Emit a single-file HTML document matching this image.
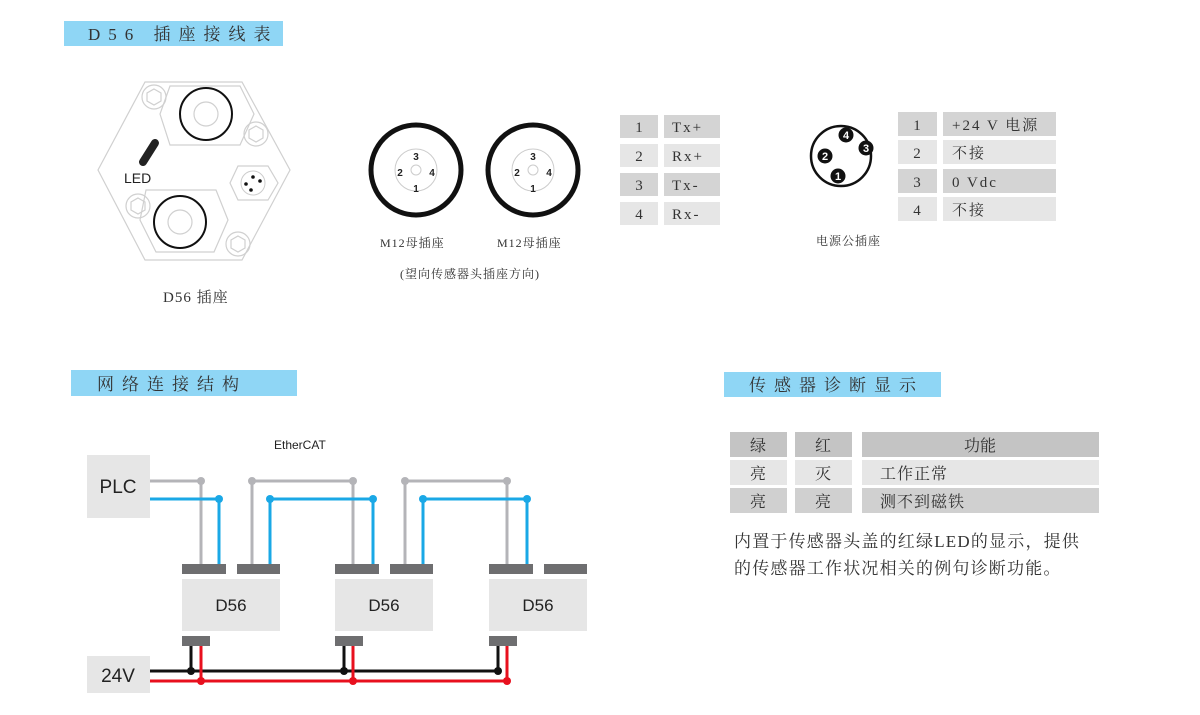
<!DOCTYPE html>
<html><head><meta charset="utf-8"><style>
html,body{margin:0;padding:0;background:#fff;}
svg{display:block;}
.t{font-family:"Liberation Serif","Noto Serif CJK SC",serif;fill:#333;}
.s{font-family:"Liberation Sans","Noto Sans CJK SC",sans-serif;fill:#222;}
</style></head><body>
<svg width="1200" height="715" viewBox="0 0 1200 715" xmlns="http://www.w3.org/2000/svg">
<!-- titles -->
<rect x="64" y="21" width="219" height="25" fill="#8fd6f5"/>
<text x="88" y="40" class="t" font-size="17" letter-spacing="8">D56 插座接线表</text>
<rect x="71" y="370" width="226" height="26" fill="#8fd6f5"/>
<text x="97" y="390" class="t" font-size="17" letter-spacing="8">网络连接结构</text>
<rect x="724" y="372" width="217" height="25" fill="#8fd6f5"/>
<text x="749" y="391" class="t" font-size="17" letter-spacing="8">传感器诊断显示</text>

<!-- hexagon D56 -->
<g fill="none" stroke="#d0d0d0" stroke-width="1.2">
<polygon points="145,82 242,82 290,170 242,260 145,260 98,170"/>
<circle cx="154" cy="97" r="12"/><polygon points="154,89 161,93 161,101 154,105 147,101 147,93"/>
<circle cx="256" cy="134" r="12"/><polygon points="256,126 263,130 263,138 256,142 249,138 249,130"/>
<circle cx="138" cy="206" r="12"/><polygon points="138,198 145,202 145,210 138,214 131,210 131,202"/>
<circle cx="238" cy="244" r="12"/><polygon points="238,236 245,240 245,248 238,252 231,248 231,240"/>
<polygon points="170,86 240,86 254,114 240,145 170,145 160,114"/>
<polygon points="146,190 216,190 228,220 214,252 156,252 140,220"/>
<polygon points="238,166 268,166 278,183 268,200 238,200 230,183"/>
<circle cx="206" cy="114" r="12"/><circle cx="180" cy="222" r="12"/>
</g>
<circle cx="206" cy="114" r="26" fill="none" stroke="#111" stroke-width="2"/>
<circle cx="180" cy="222" r="26" fill="none" stroke="#111" stroke-width="2"/>
<circle cx="253" cy="183" r="12" fill="none" stroke="#ccc"/>
<circle cx="253" cy="177" r="1.8" fill="#111"/><circle cx="260" cy="181" r="1.8" fill="#111"/><circle cx="246" cy="184" r="1.8" fill="#111"/><circle cx="251" cy="190" r="1.8" fill="#111"/>
<line x1="155" y1="143" x2="143" y2="162" stroke="#222" stroke-width="8" stroke-linecap="round"/>
<text x="124" y="183" class="s" font-size="14">LED</text>
<text x="163" y="302" class="t" font-size="15" letter-spacing="1">D56 插座</text>

<!-- M12 -->
<g>
<circle cx="416" cy="170" r="45" fill="none" stroke="#111" stroke-width="5"/>
<circle cx="416" cy="170" r="21" fill="none" stroke="#ccc"/>
<circle cx="416" cy="170" r="5" fill="none" stroke="#ccc"/>
<text x="416" y="160" class="s" font-size="10" font-weight="bold" text-anchor="middle">3</text>
<text x="416" y="192" class="s" font-size="10" font-weight="bold" text-anchor="middle">1</text>
<text x="400" y="176" class="s" font-size="10" font-weight="bold" text-anchor="middle">2</text>
<text x="432" y="176" class="s" font-size="10" font-weight="bold" text-anchor="middle">4</text>
<circle cx="533" cy="170" r="45" fill="none" stroke="#111" stroke-width="5"/>
<circle cx="533" cy="170" r="21" fill="none" stroke="#ccc"/>
<circle cx="533" cy="170" r="5" fill="none" stroke="#ccc"/>
<text x="533" y="160" class="s" font-size="10" font-weight="bold" text-anchor="middle">3</text>
<text x="533" y="192" class="s" font-size="10" font-weight="bold" text-anchor="middle">1</text>
<text x="517" y="176" class="s" font-size="10" font-weight="bold" text-anchor="middle">2</text>
<text x="549" y="176" class="s" font-size="10" font-weight="bold" text-anchor="middle">4</text>
</g>
<text x="380" y="247" class="t" font-size="12" letter-spacing="1">M12母插座</text>
<text x="497" y="247" class="t" font-size="12" letter-spacing="1">M12母插座</text>
<text x="400" y="278" class="t" font-size="12" letter-spacing="1">(望向传感器头插座方向)</text>

<!-- Ethernet table -->
<g>
<rect x="620" y="115" width="38" height="23" fill="#d4d4d4"/><rect x="664" y="115" width="56" height="23" fill="#d4d4d4"/>
<rect x="620" y="144" width="38" height="23" fill="#e6e6e6"/><rect x="664" y="144" width="56" height="23" fill="#e6e6e6"/>
<rect x="620" y="173" width="38" height="23" fill="#d4d4d4"/><rect x="664" y="173" width="56" height="23" fill="#d4d4d4"/>
<rect x="620" y="202" width="38" height="23" fill="#e6e6e6"/><rect x="664" y="202" width="56" height="23" fill="#e6e6e6"/>
<g class="t" font-size="15" text-anchor="middle">
<text x="639" y="132">1</text><text x="639" y="161">2</text><text x="639" y="190">3</text><text x="639" y="219">4</text>
</g>
<g class="t" font-size="15" letter-spacing="2">
<text x="672" y="132">Tx+</text><text x="672" y="161">Rx+</text><text x="672" y="190">Tx-</text><text x="672" y="219">Rx-</text>
</g>
</g>

<!-- power connector -->
<circle cx="841" cy="156" r="30" fill="none" stroke="#111" stroke-width="2.5"/>
<g class="s" font-size="11" font-weight="bold" text-anchor="middle">
<circle cx="846" cy="135" r="7.5" fill="#111"/><text x="846" y="139" fill="#fff">4</text>
<circle cx="866" cy="148" r="7.5" fill="#111"/><text x="866" y="152" fill="#fff">3</text>
<circle cx="825" cy="156" r="7.5" fill="#111"/><text x="825" y="160" fill="#fff">2</text>
<circle cx="838" cy="176" r="7.5" fill="#111"/><text x="838" y="180" fill="#fff">1</text>
</g>
<text x="816" y="245" class="t" font-size="12" letter-spacing="1">电源公插座</text>
<g>
<rect x="898" y="112" width="39" height="24" fill="#d4d4d4"/><rect x="943" y="112" width="113" height="24" fill="#d4d4d4"/>
<rect x="898" y="140" width="39" height="24" fill="#e6e6e6"/><rect x="943" y="140" width="113" height="24" fill="#e6e6e6"/>
<rect x="898" y="169" width="39" height="24" fill="#d4d4d4"/><rect x="943" y="169" width="113" height="24" fill="#d4d4d4"/>
<rect x="898" y="197" width="39" height="24" fill="#e6e6e6"/><rect x="943" y="197" width="113" height="24" fill="#e6e6e6"/>
<g class="t" font-size="15" text-anchor="middle">
<text x="917" y="130">1</text><text x="917" y="158">2</text><text x="917" y="187">3</text><text x="917" y="215">4</text>
</g>
<g class="t" font-size="15" letter-spacing="2">
<text x="952" y="130">+24 V 电源</text><text x="952" y="158">不接</text><text x="952" y="187">0 Vdc</text><text x="952" y="215">不接</text>
</g>
</g>

<!-- diagnostic table -->
<rect x="730" y="432" width="57" height="25" fill="#c4c4c4"/><rect x="795" y="432" width="57" height="25" fill="#c4c4c4"/><rect x="862" y="432" width="237" height="25" fill="#c4c4c4"/>
<rect x="730" y="460" width="57" height="25" fill="#e6e6e6"/><rect x="795" y="460" width="57" height="25" fill="#e6e6e6"/><rect x="862" y="460" width="237" height="25" fill="#e6e6e6"/>
<rect x="730" y="488" width="57" height="25" fill="#d0d0d0"/><rect x="795" y="488" width="57" height="25" fill="#d0d0d0"/><rect x="862" y="488" width="237" height="25" fill="#d0d0d0"/>
<g class="t" font-size="16" text-anchor="middle">
<text x="758" y="451">绿</text><text x="823" y="451">红</text><text x="980" y="451">功能</text>
<text x="758" y="479">亮</text><text x="823" y="479">灭</text>
<text x="758" y="507">亮</text><text x="823" y="507">亮</text>
</g>
<g class="t" font-size="16" letter-spacing="1">
<text x="880" y="479">工作正常</text><text x="880" y="507">测不到磁铁</text>
</g>
<text x="734" y="547" class="t" font-size="17" letter-spacing="1.2">内置于传感器头盖的红绿LED的显示，提供</text>
<text x="734" y="574" class="t" font-size="17" letter-spacing="1.2">的传感器工作状况相关的例句诊断功能。</text>

<!-- network -->
<text x="274" y="449" class="s" font-size="12">EtherCAT</text>
<rect x="87" y="455" width="63" height="63" fill="#e6e6e6"/>
<text x="118" y="493" class="s" font-size="19" text-anchor="middle" fill="#333">PLC</text>
<rect x="87" y="656" width="63" height="37" fill="#e6e6e6"/>
<text x="118" y="682" class="s" font-size="19" text-anchor="middle" fill="#333">24V</text>
<g fill="none" stroke-width="3">
<polyline points="150,481 201,481 201,564" stroke="#b4b4b8"/>
<polyline points="150,499 219,499 219,564" stroke="#1aa8e6"/>
<polyline points="252,564 252,481 353,481 353,564" stroke="#b4b4b8"/>
<polyline points="270,564 270,499 373,499 373,564" stroke="#1aa8e6"/>
<polyline points="405,564 405,481 507,481 507,564" stroke="#b4b4b8"/>
<polyline points="423,564 423,499 527,499 527,564" stroke="#1aa8e6"/>
</g>
<g fill="#b4b4b8"><circle cx="201" cy="481" r="4"/><circle cx="252" cy="481" r="4"/><circle cx="353" cy="481" r="4"/><circle cx="405" cy="481" r="4"/><circle cx="507" cy="481" r="4"/></g>
<g fill="#1aa8e6"><circle cx="219" cy="499" r="4"/><circle cx="270" cy="499" r="4"/><circle cx="373" cy="499" r="4"/><circle cx="423" cy="499" r="4"/><circle cx="527" cy="499" r="4"/></g>
<g fill="#6e6e70">
<rect x="182" y="564" width="44" height="10"/><rect x="237" y="564" width="43" height="10"/>
<rect x="335" y="564" width="44" height="10"/><rect x="390" y="564" width="43" height="10"/>
<rect x="489" y="564" width="44" height="10"/><rect x="544" y="564" width="43" height="10"/>
<rect x="182" y="636" width="28" height="10"/><rect x="335" y="636" width="28" height="10"/><rect x="489" y="636" width="28" height="10"/>
</g>
<g fill="#e6e6e6">
<rect x="182" y="579" width="98" height="52"/><rect x="335" y="579" width="98" height="52"/><rect x="489" y="579" width="98" height="52"/>
</g>
<g class="s" font-size="17" text-anchor="middle" fill="#333">
<text x="231" y="611">D56</text><text x="384" y="611">D56</text><text x="538" y="611">D56</text>
</g>
<g fill="none" stroke-width="3">
<polyline points="150,671 498,671" stroke="#111"/>
<polyline points="191,646 191,671" stroke="#111"/><polyline points="344,646 344,671" stroke="#111"/><polyline points="498,646 498,671" stroke="#111"/>
<polyline points="150,681 507,681" stroke="#e8101e"/>
<polyline points="201,646 201,681" stroke="#e8101e"/><polyline points="353,646 353,681" stroke="#e8101e"/><polyline points="507,646 507,681" stroke="#e8101e"/>
</g>
<g fill="#111"><circle cx="191" cy="671" r="4"/><circle cx="344" cy="671" r="4"/><circle cx="498" cy="671" r="4"/></g>
<g fill="#e8101e"><circle cx="201" cy="681" r="4"/><circle cx="353" cy="681" r="4"/><circle cx="507" cy="681" r="4"/></g>
</svg>
</body></html>
